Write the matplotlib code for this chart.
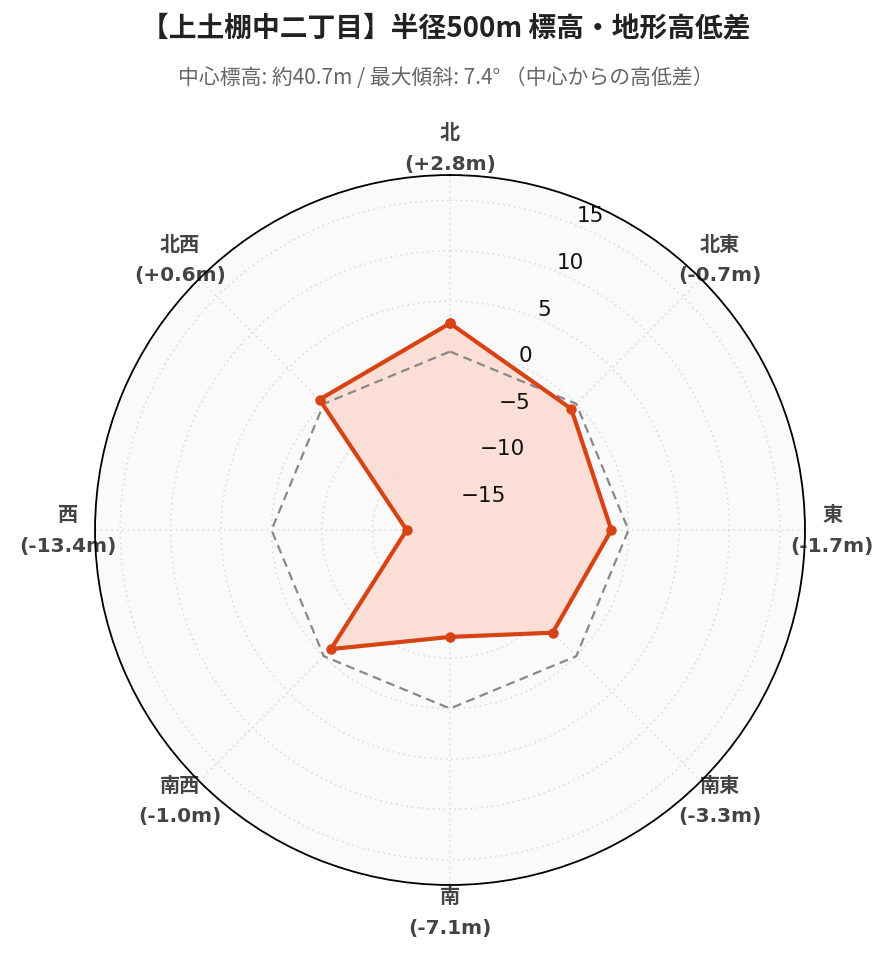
import numpy as np
import matplotlib
matplotlib.use("Agg")
import matplotlib.pyplot as plt

plt.rcParams['font.family'] = ['Noto Sans CJK JP', 'DejaVu Sans']

# data
directions = ["北", "北東", "東", "南東", "南", "南西", "西", "北西"]
diffs = [2.8, -0.7, -1.7, -3.3, -7.1, -1.0, -13.4, 0.6]
r_ticks = [-15, -10, -5, 0, 5, 10, 15]
r_min, r_max = -17.7, 17.5

title = "【上土棚中二丁目】半径500m 標高・地形高低差"
subtitle = "中心標高: 約40.7m / 最大傾斜: 7.4° （中心からの高低差）"

theta = np.deg2rad(np.arange(len(directions)) * 45.0)
th_closed = np.append(theta, theta[0])
d_closed = np.append(diffs, diffs[0])

fig = plt.figure(figsize=(8.92, 9.62), dpi=100)
ax = fig.add_axes([0.1065, 0.079, 0.796, 0.738], projection='polar')
ax.set_theta_zero_location('N')
ax.set_theta_direction(-1)
ax.set_ylim(r_min, r_max)
ax.set_facecolor('#fafafa')

# reference line at 0 (center elevation)
ax.plot(th_closed, np.zeros_like(th_closed), color='#888888', lw=1.6,
        ls=(0, (4, 2.5)), zorder=3)
# elevation difference
ax.fill(th_closed, d_closed, color='#fcdcd3', alpha=0.9, zorder=2)
ax.plot(th_closed, d_closed, color='#d84315', lw=3, marker='o', ms=6.5,
        zorder=4)

# grid
ax.set_yticks(r_ticks)
ax.set_yticklabels([])
ax.set_xticks(theta)
labels = [f"{n}\n({v:+.1f}m)" for n, v in zip(directions, diffs)]
ax.set_xticklabels(labels, fontsize=14.5, fontweight='bold', color='#444444',
                   linespacing=1.75, family=['DejaVu Sans', 'Noto Sans CJK JP'])
ax.tick_params(axis='x', pad=9)
ax.grid(True, color='#d6dbe0', ls=(0, (1, 2.5)), lw=1.1)
ax.spines['polar'].set_color('black')
ax.spines['polar'].set_linewidth(1.3)

# radial tick labels along 22.5 deg
for v in r_ticks:
    ax.text(np.deg2rad(22.5), v, f"{v}".replace('-', '\u2212'), ha='left',
            va='bottom', fontsize=15.5, color='#111111', zorder=5,
            family=['DejaVu Sans'])

fig.text(0.5, 0.970, title, ha='center', va='center', fontsize=20,
         fontweight='bold', color='#222222')
fig.text(0.5, 0.919, subtitle, ha='center', va='center', fontsize=15,
         color='#666666')

plt.savefig('out.png', dpi=100)
